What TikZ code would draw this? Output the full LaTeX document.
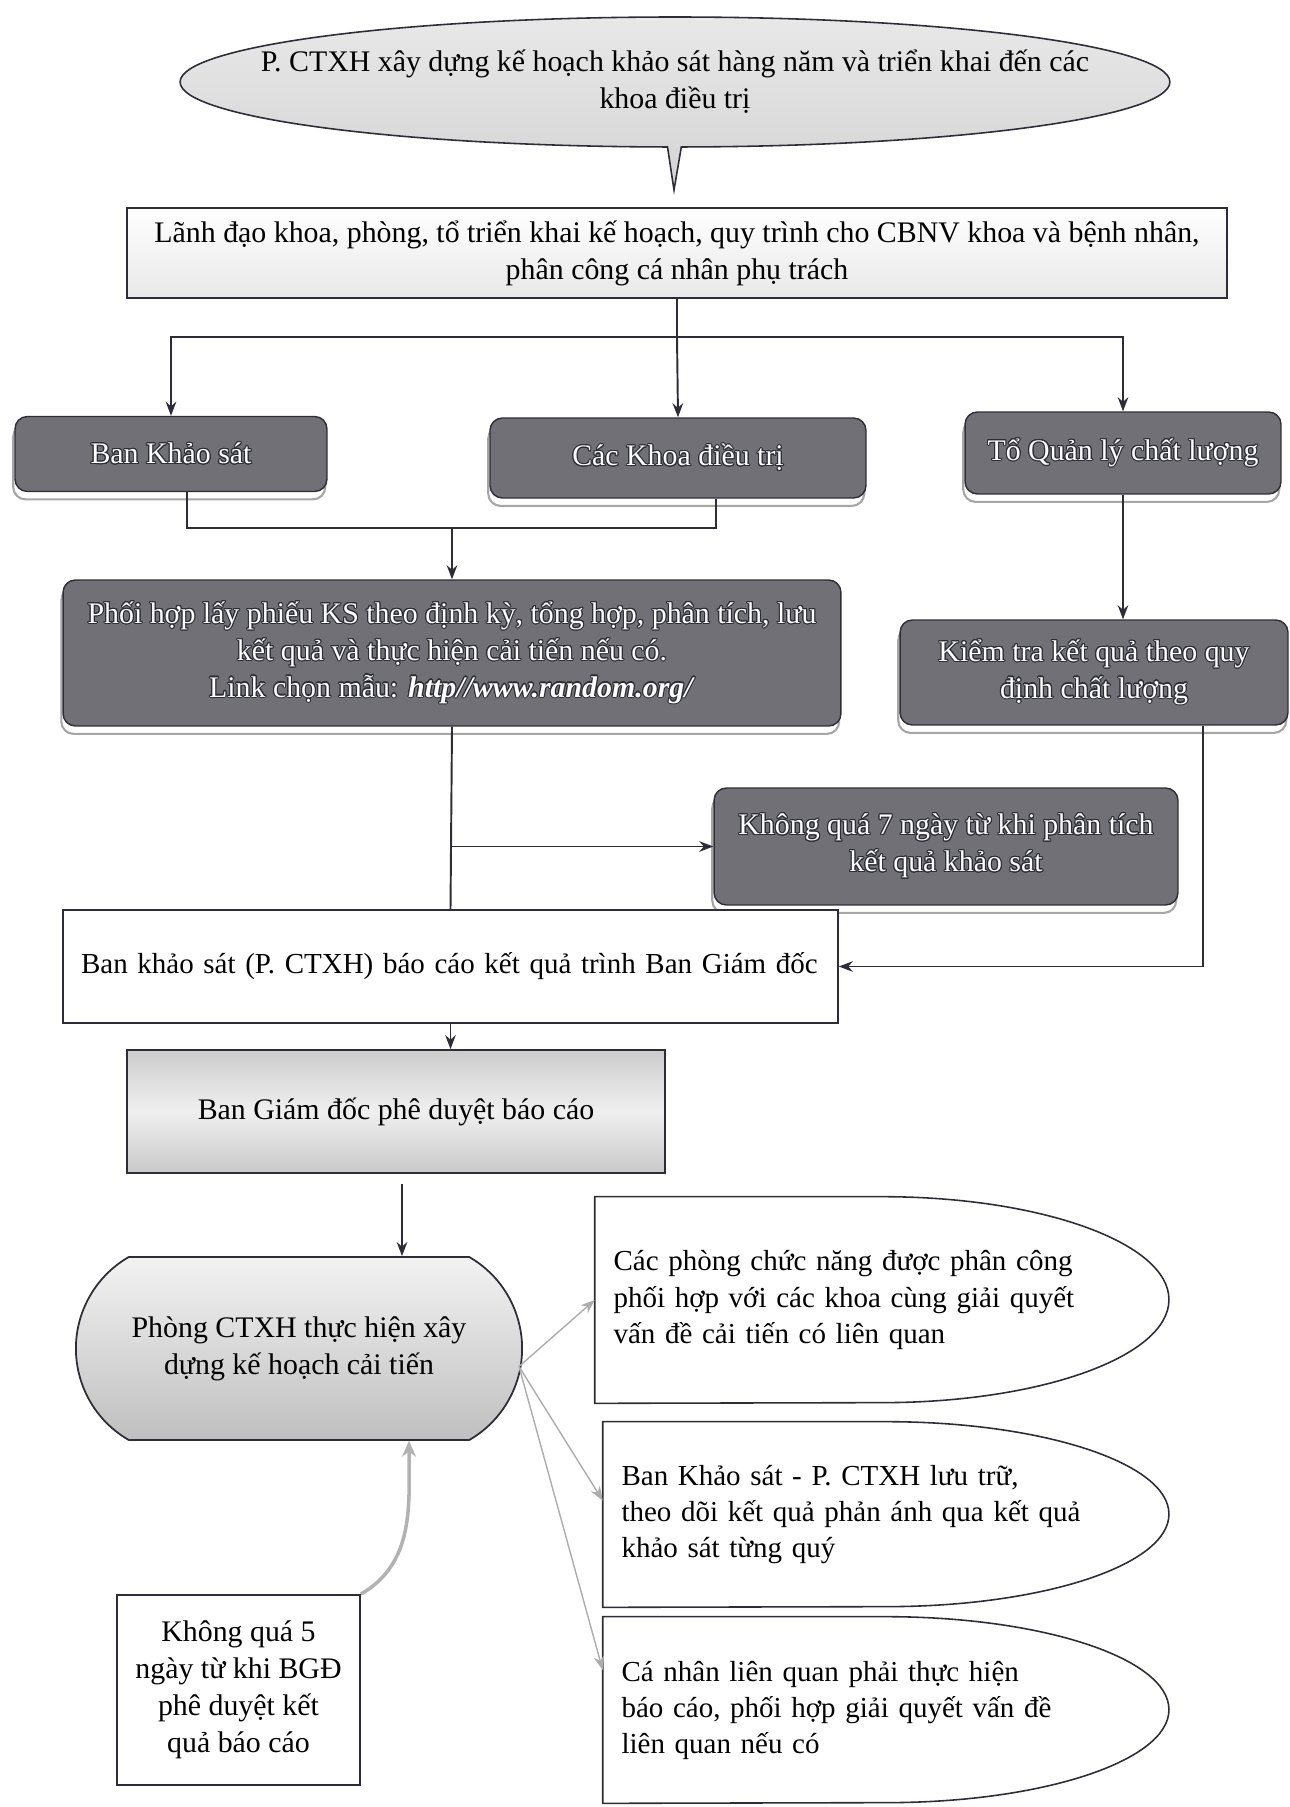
\documentclass[tikz,border=0pt]{standalone}
\usepackage{fontspec}
\setmainfont{Liberation Serif}
\usepackage{xcolor}
\definecolor{ink}{RGB}{45,45,55}
\definecolor{slate}{RGB}{112,112,118}
\usepackage{contour}
\contourlength{0.6pt}
\usetikzlibrary{shapes.misc, shapes.callouts, arrows.meta, positioning, calc, shadows}
\newcommand{\wt}[1]{\contour{ink}{#1}}

\begin{document}
\begin{tikzpicture}[x=0.02cm, y=-0.02cm,
        font=\fontsize{17}{21}\selectfont,
        plainbox/.style={rectangle, draw=ink, line width=1pt, fill=white, align=center, inner sep=4pt},
        shadebox/.style={rectangle, draw=ink, line width=1pt, align=center, top color=gray!40, bottom color=gray!42, middle color=gray!12},
        darkbox/.style={rectangle, rounded corners=7pt, draw=ink, line width=0.8pt, fill=slate, text=white, align=center, copy shadow={shadow xshift=-1pt, shadow yshift=-4.5pt, fill=white, draw=gray!70, line width=1.2pt}},
        ovalbox/.style={rectangle, align=left, inner xsep=0.37cm, text width=#1, font=\fontsize{16.5}{20.5}\selectfont},
        arrow/.style={-{Stealth[length=8pt, width=6pt]}, line width=1.1pt, draw=ink},
        thinarrow/.style={-{Stealth[length=8pt, width=6pt]}, line width=0.8pt, draw=gray!65},
        bigarrow/.style={-{Stealth[length=9pt, width=8pt]}, line width=2pt, draw=gray!60}
    ]
    \useasboundingbox (0,0) rectangle (1289,1807);

    \node[ellipse callout, draw=ink, line width=0.9pt, top color=gray!18, bottom color=gray!34, minimum width=19.8cm, minimum height=2.6cm, inner xsep=-1.5cm, inner ysep=0pt, align=center, callout absolute pointer={(674,190)}, callout pointer arc=1.6] (plan) at (675,82) {P. CTXH xây dựng kế hoạch khảo sát hàng năm và triển khai đến các\\khoa điều trị};
    \node[plainbox, top color=white, bottom color=gray!18, minimum width=22cm, minimum height=1.8cm] (lead) at (677,253) {Lãnh đạo khoa, phòng, tổ triển khai kế hoạch, quy trình cho CBNV khoa và bệnh nhân,\\phân công cá nhân phụ trách};

    \node[darkbox, minimum width=6.24cm, minimum height=1.5cm] (bks) at (171,454) {\wt{Ban Khảo sát}};
    \node[darkbox, minimum width=7.52cm, minimum height=1.6cm] (khoa) at (678,458) {\wt{Các Khoa điều trị}};
    \node[darkbox, minimum width=6.32cm, minimum height=1.64cm] (qly) at (1123,453) {\wt{Tổ Quản lý chất lượng}};

    \node[darkbox, minimum width=15.56cm, minimum height=2.92cm] (coop) at (452,653) {\wt{Phối hợp lấy phiếu KS theo định kỳ, tổng hợp, phân tích, lưu}\\\wt{kết quả và thực hiện cải tiến nếu có.}\\\wt{Link chọn mẫu: \textbf{\textit{http//www.random.org/}}}};
    \node[darkbox, minimum width=7.76cm, minimum height=2.1cm] (check) at (1094,672.5) {\wt{Kiểm tra kết quả theo quy}\\\wt{định chất lượng}};
    \node[darkbox, minimum width=9.28cm, minimum height=2.34cm] (seven) at (946,846.5) {\wt{Không quá 7 ngày từ khi phân tích}\\\wt{kết quả khảo sát}};

    \node[plainbox, minimum height=2.26cm, text width=14.78cm, inner xsep=0.36cm, align=left, font=\fontsize{16.5}{20.5}\selectfont] (report) at (450.5,966.5) {Ban khảo sát (P. CTXH) báo cáo kết quả trình Ban Giám đốc};
    \node[shadebox, minimum width=10.76cm, minimum height=2.46cm] (bgd) at (396,1111.5) {Ban Giám đốc phê duyệt báo cáo};
    \node[rounded rectangle, rounded rectangle arc length=120, draw=ink, line width=1pt, top color=gray!10, bottom color=gray!50, align=center, minimum width=9.16cm, minimum height=3.66cm] (ctxh) at (299,1348.5) {Phòng CTXH thực hiện xây\\dựng kế hoạch cải tiến};
    \node[plainbox, minimum width=4.86cm, minimum height=3.8cm] (five) at (238.5,1690) {Không quá 5\\ngày từ khi BGĐ\\phê duyệt kết\\quả báo cáo};

    \node[ovalbox=10.74cm, minimum height=4.12cm] (o1) at (882,1300) {Các phòng chức năng được phân công\\phối hợp với các khoa cùng giải quyết\\vấn đề cải tiến có liên quan};
    \node[ovalbox=10.58cm, minimum height=3.7cm] (o2) at (886,1514.5) {Ban Khảo sát - P. CTXH lưu trữ,\\theo dõi kết quả phản ánh qua kết quả\\khảo sát từng quý};
    \node[ovalbox=10.58cm, minimum height=3.72cm] (o3) at (886,1710) {Cá nhân liên quan phải thực hiện\\báo cáo, phối hợp giải quyết vấn đề\\liên quan nếu có};
    \foreach \n/\rx/\ry in {o1/5.74/2.06, o2/5.66/1.85, o3/5.66/1.86}
        \draw[ink, line width=0.9pt] (\n.north west) -- (\n.north) arc[start angle=90, end angle=-90, x radius=\rx cm, y radius=\ry cm] -- (\n.south west) -- cycle;

    \draw[ink, line width=1.1pt] (lead.south) -- ++(0,38) coordinate (bar);
    \draw[arrow] (bar) -| (bks.north);
    \draw[arrow] (bar) -- (khoa.north);
    \draw[arrow] (bar) -| (qly.north);

    \coordinate (join) at ($(bks.south)+(16,36)$);
    \draw[ink, line width=1.1pt] ($(bks.south)+(16,0)$) -- (join) -| ($(khoa.south)+(38,0)$);
    \draw[arrow] (coop.north |- join) -- (coop.north);
    \draw[arrow] (qly.south) -- (qly.south |- check.north);

    \draw[ink, line width=1.1pt] (coop.south) -- (report.north);
    \draw[arrow] (coop.south |- seven.west) -- (seven.west);
    \draw[arrow] ($(check.south)+(109,0)$) |- (report.east);
    \draw[arrow] (report.south) -- (report.south |- bgd.north);
    \draw[arrow] ($(bgd.south)+(6,10)$) coordinate (g) -- (g |- ctxh.north);

    \coordinate (fan) at ($(ctxh.east)+(-4,18)$);
    \draw[thinarrow] (fan) -- (o1.west);
    \draw[thinarrow] (fan) -- ($(o2.west)+(0,-14)$);
    \draw[thinarrow] (fan) -- ($(o3.west)+(0,-40)$);
    \draw[bigarrow] (five.north east) to[out=30, in=-90] ($(ctxh.south)+(110,0)$);
\end{tikzpicture}
\end{document}
